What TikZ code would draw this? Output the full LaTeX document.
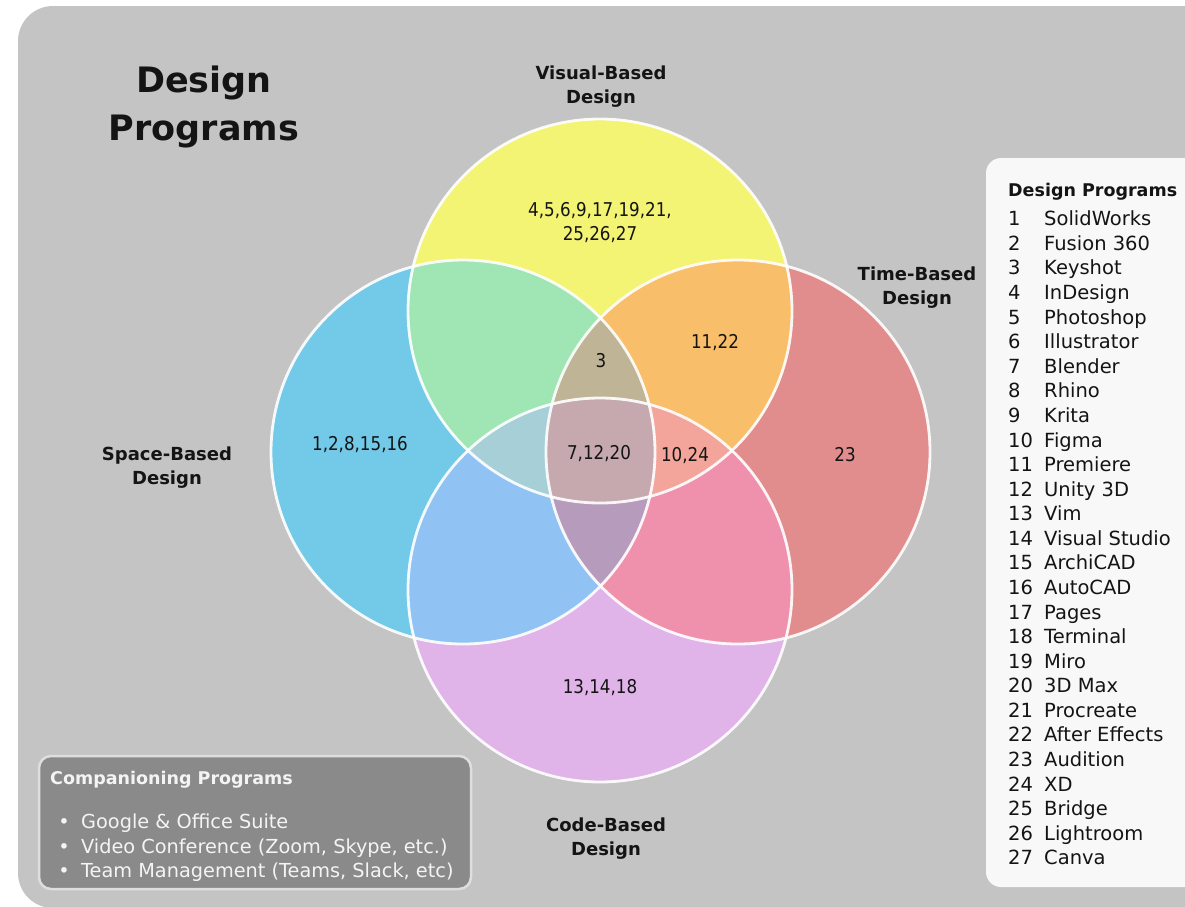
\documentclass[tikz,border=0pt]{standalone}
\usepackage{fontspec}
\setmainfont{DejaVu Sans}
\newfontfamily\numfont[FakeStretch=0.88]{DejaVu Sans}
\definecolor{bgGray}{HTML}{C4C4C4}
\definecolor{legBg}{HTML}{F8F8F8}
\definecolor{compBg}{HTML}{8A8A8A}
\definecolor{compBorder}{HTML}{DEDEDE}
\definecolor{compText}{HTML}{F4F4F4}
\definecolor{cYel}{HTML}{F3F374}
\definecolor{cBlu}{HTML}{72C9E8}
\definecolor{cRed}{HTML}{E18C8D}
\definecolor{cPnk}{HTML}{E0B4E8}
\definecolor{cGrn}{HTML}{A0E6B5}
\definecolor{cOrg}{HTML}{F8BE6A}
\definecolor{cLbl}{HTML}{90C2F4}
\definecolor{cPkr}{HTML}{EF90AD}
\definecolor{cTan}{HTML}{BFB495}
\definecolor{cSal}{HTML}{F4A59B}
\definecolor{cGbl}{HTML}{A6CFD8}
\definecolor{cPur}{HTML}{B79BBD}
\definecolor{cCen}{HTML}{C5A9AF}
\definecolor{ink}{HTML}{141414}
\begin{document}
\begin{tikzpicture}[x=1pt,y=-1pt,
  lab/.style={font=\bfseries\fontsize{18}{22}\selectfont, inner sep=0pt, anchor=base, text=ink},
  num/.style={font=\numfont\fontsize{19}{23}\selectfont, inner sep=0pt, anchor=base, text=ink},
  leg/.style={font=\fontsize{19.5}{24}\selectfont, inner sep=0pt, anchor=base west, text=ink},
  comp/.style={font=\fontsize{19.3}{24}\selectfont, inner sep=0pt, anchor=base west, text=compText},
  ring/.style={draw=white, draw opacity=0.9, line width=2.8pt}]
\def\R{192pt}
\useasboundingbox (0,0) rectangle (1185,906);
\clip (0,0) rectangle (1185,906);
\fill[white] (0,0) rectangle (1185,906);
% background panel
\fill[bgGray, rounded corners=35pt] (18,6) rectangle (1230,908);
% legend panel
\fill[legBg, rounded corners=15pt] (986,158) rectangle (1220,887);
% circle centres
\coordinate (cVis) at (600,311);
\coordinate (cSpa) at (463,452);
\coordinate (cTim) at (738,452);
\coordinate (cCod) at (600,590);
% single fills
\fill[cYel] (cVis) circle[radius=\R];
\fill[cBlu] (cSpa) circle[radius=\R];
\fill[cRed] (cTim) circle[radius=\R];
\fill[cPnk] (cCod) circle[radius=\R];
% pairs
\begin{scope}\clip (cVis) circle[radius=\R]; \fill[cGrn] (cSpa) circle[radius=\R];\end{scope}
\begin{scope}\clip (cVis) circle[radius=\R]; \fill[cOrg] (cTim) circle[radius=\R];\end{scope}
\begin{scope}\clip (cCod) circle[radius=\R]; \fill[cLbl] (cSpa) circle[radius=\R];\end{scope}
\begin{scope}\clip (cCod) circle[radius=\R]; \fill[cPkr] (cTim) circle[radius=\R];\end{scope}
% triples
\begin{scope}\clip (cVis) circle[radius=\R]; \clip (cSpa) circle[radius=\R]; \fill[cTan] (cTim) circle[radius=\R];\end{scope}
\begin{scope}\clip (cVis) circle[radius=\R]; \clip (cTim) circle[radius=\R]; \fill[cSal] (cCod) circle[radius=\R];\end{scope}
\begin{scope}\clip (cVis) circle[radius=\R]; \clip (cSpa) circle[radius=\R]; \fill[cGbl] (cCod) circle[radius=\R];\end{scope}
\begin{scope}\clip (cSpa) circle[radius=\R]; \clip (cTim) circle[radius=\R]; \fill[cPur] (cCod) circle[radius=\R];\end{scope}
% all four
\begin{scope}\clip (cVis) circle[radius=\R]; \clip (cSpa) circle[radius=\R]; \clip (cTim) circle[radius=\R]; \fill[cCen] (cCod) circle[radius=\R];\end{scope}
% rings
\draw[ring] (cVis) circle[radius=\R];
\draw[ring] (cSpa) circle[radius=\R];
\draw[ring] (cTim) circle[radius=\R];
\draw[ring] (cCod) circle[radius=\R];
% title
\node[lab, font=\bfseries\fontsize{35}{40}\selectfont] (title1) at (204,92) {Design};
\node[lab, font=\bfseries\fontsize{35}{40}\selectfont] (title2) at (204,140) {Programs};
% circle labels
\node[lab] (visA) at (601,79) {Visual-Based};
\node[lab] (visB) at (601,103.5) {Design};
\node[lab] (spaA) at (167,460) {Space-Based};
\node[lab] (spaB) at (167,484.5) {Design};
\node[lab] (timA) at (917,280) {Time-Based};
\node[lab] (timB) at (917,304.5) {Design};
\node[lab] (codA) at (606,831) {Code-Based};
\node[lab] (codB) at (606,855.5) {Design};
% region numbers
\node[num] (nVisA) at (600,216) {4,5,6,9,17,19,21,};
\node[num] (nVisB) at (600,240.5) {25,26,27};
\node[num] (nSpa) at (360,450) {1,2,8,15,16};
\node[num] (nTri) at (601,367) {3};
\node[num] (nAll) at (599,459) {7,12,20};
\node[num] (nVT) at (715,348) {11,22};
\node[num] (nVTC) at (685,461) {10,24};
\node[num] (nTim) at (845,461) {23};
\node[num] (nCod) at (600,693) {13,14,18};
% legend
\node[leg, font=\bfseries\fontsize{17.5}{22}\selectfont] (legHead) at (1008,196.5) {Design Programs};
\foreach \n/\name [count=\i] in {1/SolidWorks,2/Fusion 360,3/Keyshot,4/InDesign,5/Photoshop,6/Illustrator,7/Blender,8/Rhino,9/Krita,10/Figma,11/Premiere,12/Unity 3D,13/Vim,14/Visual Studio,15/ArchiCAD,16/AutoCAD,17/Pages,18/Terminal,19/Miro,20/3D Max,21/Procreate,22/After Effects,23/Audition,24/XD,25/Bridge,26/Lightroom,27/Canva}{
  \pgfmathsetmacro\yy{225.8+(\i-1)*24.58}
  \node[leg] (legN\i) at (1008,\yy) {\n};
  \node[leg] (legT\i) at (1044,\yy) {\name};
}
% companioning programs box
\draw[fill=compBg, draw=compBorder, line width=2.5pt, rounded corners=12pt] (39,756) rectangle (471,889);
\node[comp, font=\bfseries\fontsize{17.5}{22}\selectfont] (compHead) at (50,784) {Companioning Programs};
\node[comp, anchor=base] (b1) at (64,828) {•};
\node[comp] (c1) at (81,828) {Google \& Office Suite};
\node[comp, anchor=base] (b2) at (64,853) {•};
\node[comp] (c2) at (81,853) {Video Conference (Zoom, Skype, etc.)};
\node[comp, anchor=base] (b3) at (64,877) {•};
\node[comp] (c3) at (81,877) {Team Management (Teams, Slack, etc)};
\end{tikzpicture}
\end{document}
